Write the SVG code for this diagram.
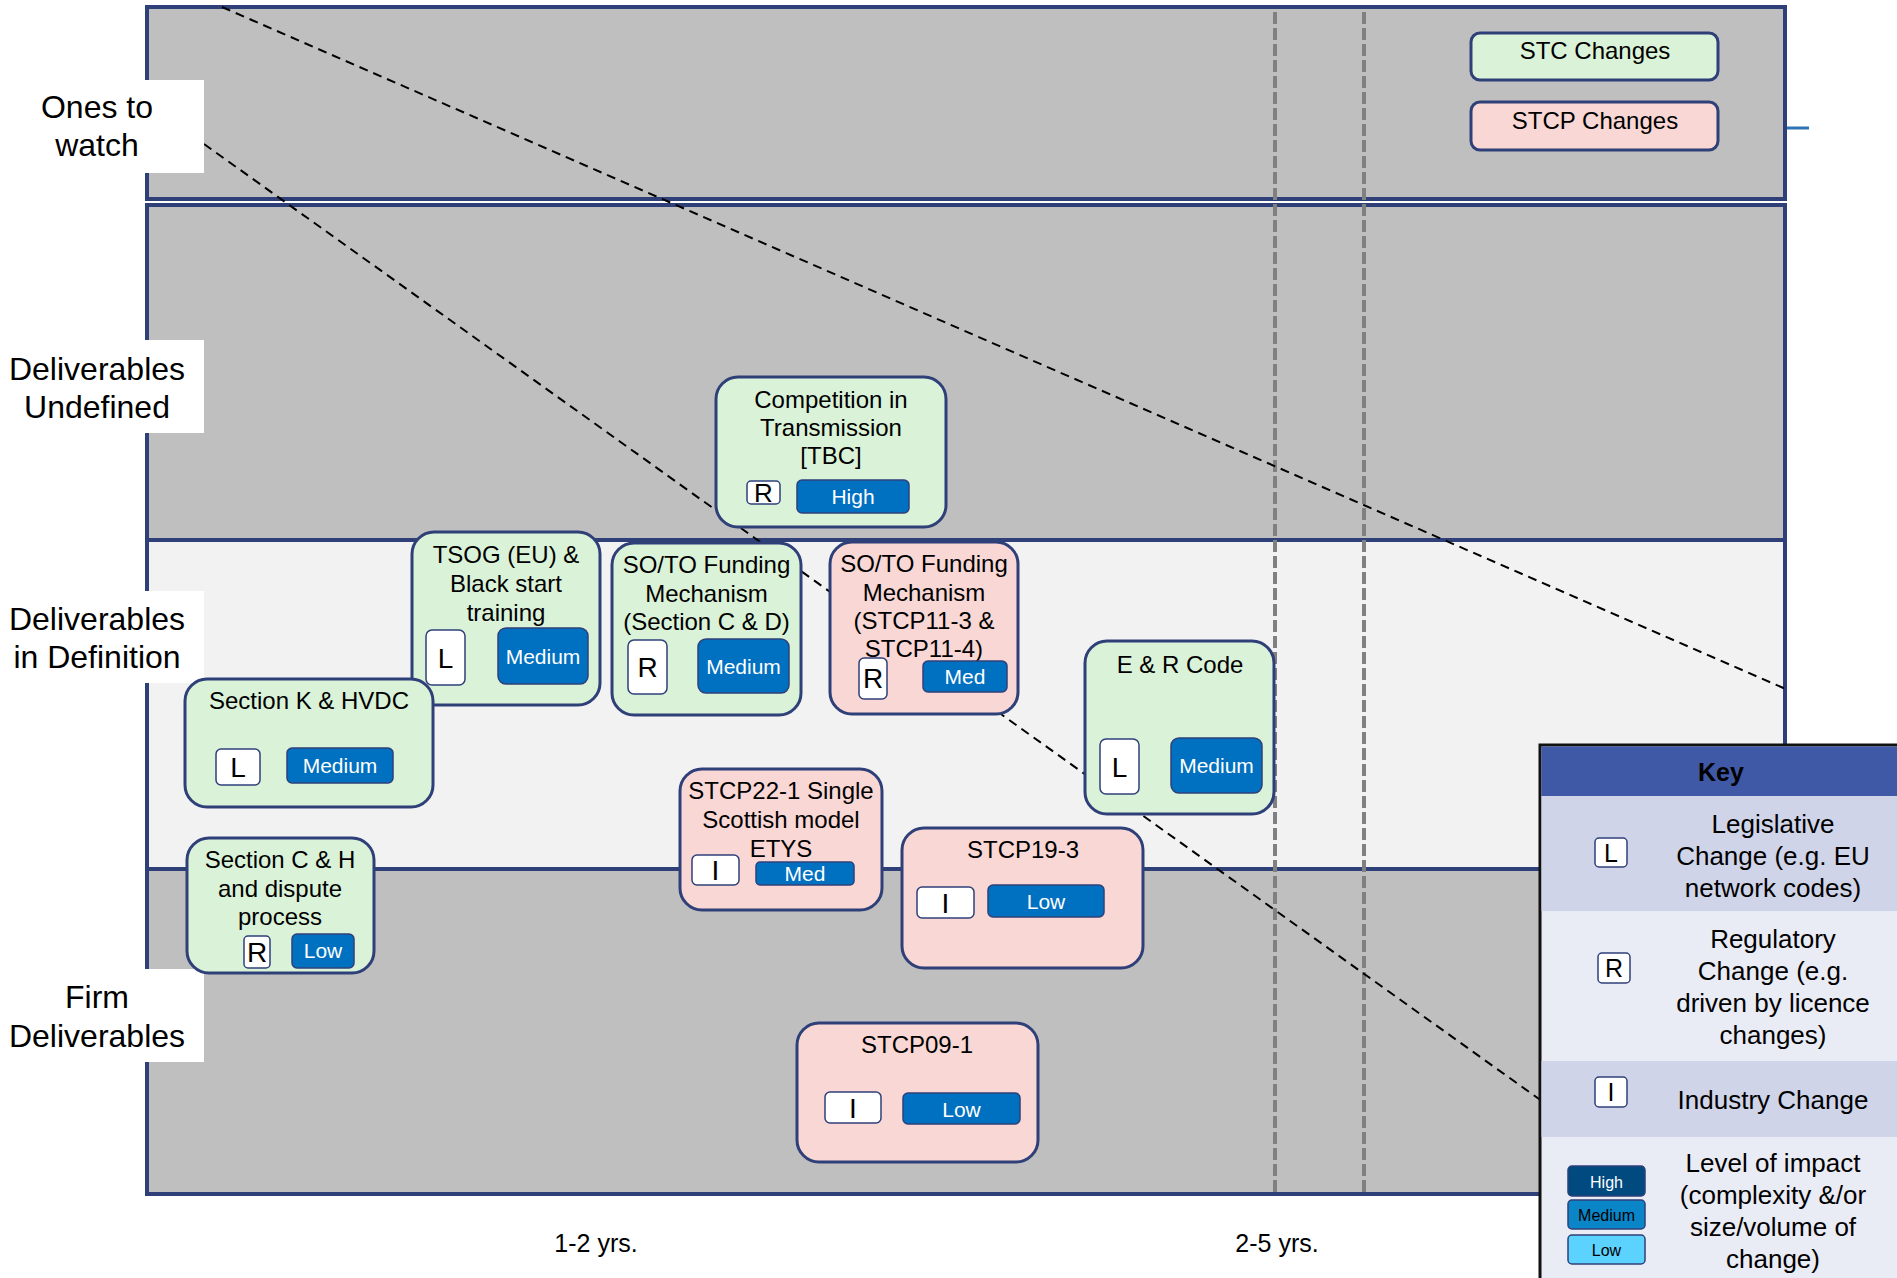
<svg xmlns="http://www.w3.org/2000/svg" width="1897" height="1278" viewBox="0 0 1897 1278">
<style>
text{font-family:"Liberation Sans",Arial,sans-serif;fill:#000}
.lbl{font-size:32px;text-anchor:middle}
.nt{font-size:24px;text-anchor:middle}
.stc{fill:#DAF2D8;stroke:#2F4079;stroke-width:3}
.stcp{fill:#F8D7D5;stroke:#2F4079;stroke-width:3}
.badge{fill:#fff;stroke:#2F4079;stroke-width:1.5}
.bl{font-size:28px;text-anchor:middle}
.btn{fill:#0070C0;stroke:#2F4079;stroke-width:1.5}
.bt{font-size:21px;text-anchor:middle;fill:#fff}
.kt{font-size:26px;text-anchor:middle}
.panel{stroke:#2F4079;stroke-width:4}
.vd{stroke:#808080;stroke-width:4;stroke-dasharray:12 4}
</style>
<rect width="1897" height="1278" fill="#fff"/>
<g id="frame">
<rect x="147" y="7" width="1638" height="192" fill="#BFBFBF" class="panel"/>
<rect x="147" y="205" width="1638" height="989" fill="#BFBFBF" class="panel"/>
<rect x="149" y="540" width="1634" height="329" fill="#F2F2F2"/>
<line x1="147" y1="540" x2="1785" y2="540" class="panel"/>
<line x1="147" y1="869" x2="1785" y2="869" class="panel"/>
<line x1="1275" y1="12" x2="1275" y2="1192" class="vd"/>
<line x1="1364" y1="12" x2="1364" y2="1192" class="vd"/>
<line x1="1787" y1="128" x2="1809" y2="128" stroke="#2E75B6" stroke-width="3"/>
</g>
<g id="connectors">
<line x1="222" y1="7" x2="1788" y2="690" stroke="#000" stroke-width="2" stroke-dasharray="9 6"/>
<line x1="204" y1="144" x2="1560" y2="1114" stroke="#000" stroke-width="2" stroke-dasharray="9 6"/>
</g>
<g id="row-labels">
<rect x="0" y="80" width="204" height="93" fill="#fff"/>
<text class="lbl" x="97" y="118">Ones to</text>
<text class="lbl" x="97" y="156">watch</text>
<rect x="0" y="340" width="204" height="93" fill="#fff"/>
<text class="lbl" x="97" y="380">Deliverables</text>
<text class="lbl" x="97" y="418">Undefined</text>
<rect x="0" y="591" width="204" height="92" fill="#fff"/>
<text class="lbl" x="97" y="630">Deliverables</text>
<text class="lbl" x="97" y="668">in Definition</text>
<rect x="0" y="969" width="204" height="93" fill="#fff"/>
<text class="lbl" x="97" y="1008">Firm</text>
<text class="lbl" x="97" y="1047">Deliverables</text>
</g>
<g id="legend-stc">
<rect x="1471" y="33" width="247" height="47" rx="9" class="stc"/>
<text class="nt" x="1595" y="59">STC Changes</text>
</g>
<g id="legend-stcp">
<rect x="1471" y="102" width="247" height="48" rx="9" class="stcp"/>
<text class="nt" x="1595" y="129">STCP Changes</text>
</g>
<g id="node-competition">
<rect x="716" y="377" width="230" height="150" rx="22" class="stc"/>
<text class="nt" x="831" y="408">Competition in</text>
<text class="nt" x="831" y="436">Transmission</text>
<text class="nt" x="831" y="464">[TBC]</text>
<rect x="747" y="481" width="33" height="23" rx="4" class="badge"/>
<text class="bl" x="763.5" y="502" style="font-size:26px">R</text>
<rect x="797" y="480" width="112" height="33" rx="5" class="btn"/>
<text class="bt" x="853" y="504">High</text>
</g>
<g id="node-tsog">
<rect x="412" y="532" width="188" height="173" rx="22" class="stc"/>
<text class="nt" x="506" y="563">TSOG (EU) &amp;</text>
<text class="nt" x="506" y="592">Black start</text>
<text class="nt" x="506" y="621">training</text>
<rect x="426" y="630" width="39" height="55" rx="6" class="badge"/>
<text class="bl" x="445.5" y="668">L</text>
<rect x="498" y="628" width="90" height="56" rx="8" class="btn"/>
<text class="bt" x="543" y="664">Medium</text>
</g>
<g id="node-soto-stc">
<rect x="612" y="543" width="189" height="172" rx="22" class="stc"/>
<text class="nt" x="706.5" y="573">SO/TO Funding</text>
<text class="nt" x="706.5" y="602">Mechanism</text>
<text class="nt" x="706.5" y="630">(Section C &amp; D)</text>
<rect x="628" y="640" width="39" height="54" rx="6" class="badge"/>
<text class="bl" x="647.5" y="677">R</text>
<rect x="698" y="639" width="91" height="54" rx="8" class="btn"/>
<text class="bt" x="743.5" y="674">Medium</text>
</g>
<g id="node-soto-stcp">
<rect x="830" y="542" width="188" height="172" rx="22" class="stcp"/>
<text class="nt" x="924" y="572">SO/TO Funding</text>
<text class="nt" x="924" y="601">Mechanism</text>
<text class="nt" x="924" y="629">(STCP11-3 &amp;</text>
<text class="nt" x="924" y="657">STCP11-4)</text>
<rect x="859" y="658" width="28" height="41" rx="5" class="badge"/>
<text class="bl" x="873" y="688">R</text>
<rect x="923" y="661" width="84" height="31" rx="5" class="btn"/>
<text class="bt" x="965" y="684">Med</text>
</g>
<g id="node-er-code">
<rect x="1085" y="641" width="189" height="173" rx="22" class="stc"/>
<text class="nt" x="1180" y="673">E &amp; R Code</text>
<rect x="1100" y="739" width="39" height="55" rx="6" class="badge"/>
<text class="bl" x="1119.5" y="777">L</text>
<rect x="1171" y="738" width="91" height="55" rx="8" class="btn"/>
<text class="bt" x="1216.5" y="773">Medium</text>
</g>
<g id="node-section-k">
<rect x="185" y="679" width="248" height="128" rx="22" class="stc"/>
<text class="nt" x="309" y="709">Section K &amp; HVDC</text>
<rect x="216" y="749" width="44" height="36" rx="5" class="badge"/>
<text class="bl" x="238" y="777">L</text>
<rect x="287" y="748" width="106" height="35" rx="5" class="btn"/>
<text class="bt" x="340" y="773">Medium</text>
</g>
<g id="node-section-ch">
<rect x="187" y="838" width="187" height="135" rx="22" class="stc"/>
<text class="nt" x="280" y="868">Section C &amp; H</text>
<text class="nt" x="280" y="897">and dispute</text>
<text class="nt" x="280" y="925">process</text>
<rect x="244" y="936" width="26" height="32" rx="4" class="badge"/>
<text class="bl" x="257" y="962">R</text>
<rect x="292" y="934" width="62" height="34" rx="5" class="btn"/>
<text class="bt" x="323" y="958">Low</text>
</g>
<g id="node-stcp22">
<rect x="680" y="769" width="202" height="141" rx="22" class="stcp"/>
<text class="nt" x="781" y="799">STCP22-1 Single</text>
<text class="nt" x="781" y="828">Scottish model</text>
<text class="nt" x="781" y="857">ETYS</text>
<rect x="692" y="855" width="47" height="30" rx="5" class="badge"/>
<text class="bl" x="715.5" y="880">I</text>
<rect x="756" y="862" width="98" height="23" rx="4" class="btn"/>
<text class="bt" x="805" y="881">Med</text>
</g>
<g id="node-stcp19">
<rect x="902" y="828" width="241" height="140" rx="22" class="stcp"/>
<text class="nt" x="1023" y="858">STCP19-3</text>
<rect x="917" y="887" width="57" height="31" rx="5" class="badge"/>
<text class="bl" x="945.5" y="912.5">I</text>
<rect x="988" y="885" width="116" height="32" rx="5" class="btn"/>
<text class="bt" x="1046" y="909">Low</text>
</g>
<g id="node-stcp09">
<rect x="797" y="1023" width="241" height="139" rx="22" class="stcp"/>
<text class="nt" x="917" y="1053">STCP09-1</text>
<rect x="825" y="1092" width="56" height="31" rx="5" class="badge"/>
<text class="bl" x="853" y="1117.5">I</text>
<rect x="903" y="1093" width="117" height="31" rx="5" class="btn"/>
<text class="bt" x="961.5" y="1117">Low</text>
</g>
<g id="axis-labels">
<text x="596" y="1252" style="font-size:25px;text-anchor:middle">1-2 yrs.</text>
<text x="1277" y="1252" style="font-size:25px;text-anchor:middle">2-5 yrs.</text>
</g>
<g id="key">
<rect x="1540" y="745" width="360" height="540" fill="#E9EBF5" stroke="#111" stroke-width="3"/>
<rect x="1541.5" y="746.5" width="360" height="50" fill="#3F59A6"/>
<text x="1721" y="781" style="font-size:25px;font-weight:bold;text-anchor:middle">Key</text>
<rect x="1541.5" y="796" width="360" height="115" fill="#CFD4E8"/>
<rect x="1541.5" y="1061" width="360" height="76" fill="#CFD4E8"/>
<rect x="1595" y="838" width="32" height="29" rx="4" class="badge"/>
<text x="1611" y="862" style="font-size:25px;text-anchor:middle">L</text>
<text class="kt" x="1773" y="833">Legislative</text>
<text class="kt" x="1773" y="865">Change (e.g. EU</text>
<text class="kt" x="1773" y="897">network codes)</text>
<rect x="1598" y="953" width="32" height="30" rx="4" class="badge"/>
<text x="1614" y="977" style="font-size:25px;text-anchor:middle">R</text>
<text class="kt" x="1773" y="948">Regulatory</text>
<text class="kt" x="1773" y="980">Change (e.g.</text>
<text class="kt" x="1773" y="1012">driven by licence</text>
<text class="kt" x="1773" y="1044">changes)</text>
<rect x="1595" y="1077" width="32" height="30" rx="4" class="badge"/>
<text x="1611" y="1101" style="font-size:25px;text-anchor:middle">I</text>
<text class="kt" x="1773" y="1109">Industry Change</text>
<rect x="1568" y="1166" width="77" height="30" rx="4" fill="#004A80" stroke="#2F4079" stroke-width="1.5"/>
<text x="1606.5" y="1188" style="font-size:16px;text-anchor:middle;fill:#fff">High</text>
<rect x="1568" y="1200" width="77" height="29" rx="4" fill="#0A85C8" stroke="#2F4079" stroke-width="1.5"/>
<text x="1606.5" y="1221" style="font-size:16px;text-anchor:middle">Medium</text>
<rect x="1568" y="1235" width="77" height="29" rx="4" fill="#5CD3FF" stroke="#2F4079" stroke-width="1.5"/>
<text x="1606.5" y="1256" style="font-size:16px;text-anchor:middle">Low</text>
<text class="kt" x="1773" y="1172">Level of impact</text>
<text class="kt" x="1773" y="1204">(complexity &amp;/or</text>
<text class="kt" x="1773" y="1236">size/volume of</text>
<text class="kt" x="1773" y="1268">change)</text>
</g>
</svg>
